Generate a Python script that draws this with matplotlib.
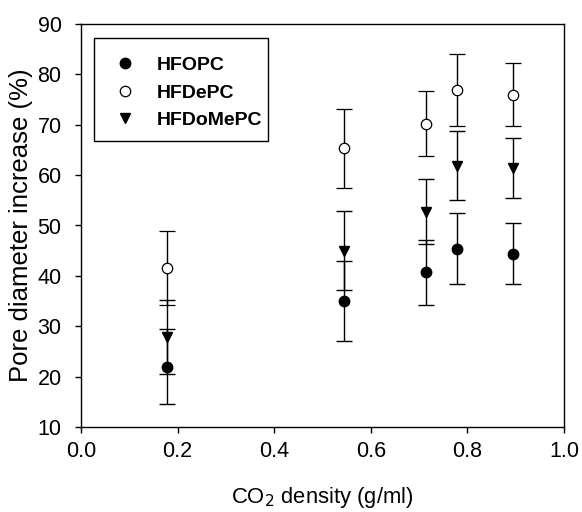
import matplotlib
matplotlib.use("Agg")
import matplotlib.pyplot as plt
from matplotlib.lines import Line2D
from matplotlib.patches import Rectangle

density = [0.178, 0.544, 0.715, 0.779, 0.894]
hfopc = [22.0, 35.0, 40.7, 45.4, 44.4]
hfopc_err = [7.5, 7.9, 6.45, 7.0, 6.0]
hfdepc = [41.6, 65.3, 70.2, 76.9, 76.0]
hfdepc_err = [7.4, 7.9, 6.5, 7.1, 6.2]
hfdomepc = [27.9, 45.0, 52.7, 61.9, 61.4]
hfdomepc_err = [7.35, 7.8, 6.45, 6.9, 6.0]
labels = ["HFOPC", "HFDePC", "HFDoMePC"]
xticks = [0.0, 0.2, 0.4, 0.6, 0.8, 1.0]
yticks = [10, 20, 30, 40, 50, 60, 70, 80, 90]

plt.rcParams['font.family'] = ['Liberation Sans', 'DejaVu Sans']

W, H = 582, 512
fig = plt.figure(figsize=(W/100, H/100), dpi=100)
L, R, T, B = 81, 564, 24, 427
ax = fig.add_axes([L/W, 1-B/H, (R-L)/W, (B-T)/H])

ms = 7.5
common = dict(ecolor='black', elinewidth=1.0, capsize=5.5, capthick=1.0, linestyle='none', markersize=ms)
ax.errorbar(density, hfopc, yerr=hfopc_err, marker='o', mfc='black', mec='black', **common)
ax.errorbar(density, hfdepc, yerr=hfdepc_err, marker='o', mfc='white', mec='black', mew=0.9, **common)
ax.errorbar(density, hfdomepc, yerr=hfdomepc_err, marker='v', mfc='black', mec='black', **common)

ax.set_xlim(0, 1.0)
ax.set_ylim(10, 90)
ax.set_xticks(xticks)
ax.set_xticklabels([f"{t:.1f}" for t in xticks])
ax.set_yticks(yticks)
ax.tick_params(direction='out', length=4, width=1, labelsize=15.5, top=False, right=False)
ax.tick_params(axis='y', pad=10)
ax.tick_params(axis='x', pad=6)
for s in ax.spines.values():
    s.set_linewidth(1.0)

ax.set_xlabel("CO$_2$ density (g/ml)", fontsize=15.8, labelpad=17)
ax.set_ylabel("Pore diameter increase (%)", fontsize=18.5, labelpad=3)

handles = [
    Line2D([], [], marker='o', linestyle='none', mfc='black', mec='black', markersize=ms),
    Line2D([], [], marker='o', linestyle='none', mfc='white', mec='black', mew=0.9, markersize=ms),
    Line2D([], [], marker='v', linestyle='none', mfc='black', mec='black', markersize=ms),
]

def fx(px):
    return (px - L) / (R - L)

def fy(py):
    return (B - py) / (B - T)

leg = ax.legend(handles=handles, labels=labels,
                loc='upper left', bbox_to_anchor=(fx(94), fy(41)), frameon=False,
                prop={'weight': 'bold', 'size': 14}, handlelength=1.6,
                handletextpad=0.85, borderpad=0.8, labelspacing=0.5, borderaxespad=0)

ax.add_patch(Rectangle((fx(94), fy(141)), fx(268) - fx(94), fy(38) - fy(141),
                       transform=ax.transAxes, fill=False, edgecolor='black', linewidth=1.0, zorder=5))

fig.savefig("out.png", dpi=100)
